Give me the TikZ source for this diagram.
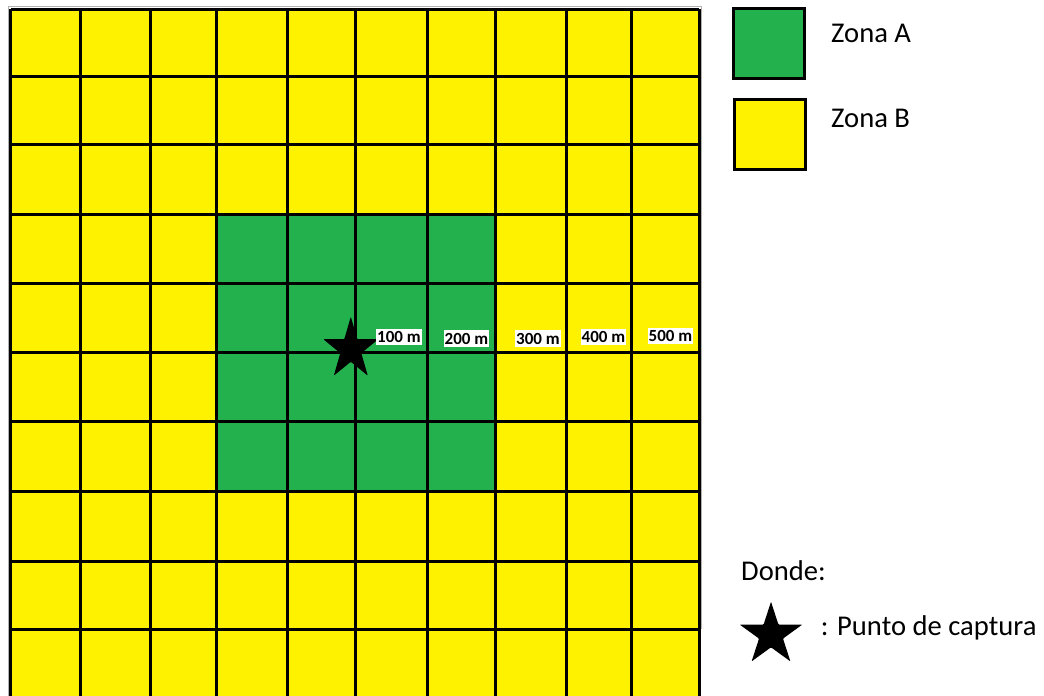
\documentclass[tikz,border=0pt]{standalone}
\usepackage{fontspec}
\setmainfont{Carlito}
\definecolor{zgreen}{HTML}{22B14C}
\definecolor{zyellow}{HTML}{FFF200}
\tikzset{
  gridline/.style={line width=3pt, black},
  lbl/.style={fill=white, font=\bfseries\fontsize{17}{17}\selectfont, inner xsep=1pt, inner ysep=2.5pt, anchor=base},
  txt/.style={font=\fontsize{28.6}{30}\selectfont, anchor=base west, inner sep=0pt},
  legbox/.style={draw=black, line width=3pt, minimum width=71pt, minimum height=70pt, inner sep=0pt},
}
\begin{document}
\begin{tikzpicture}[x=1pt,y=-1pt]
\useasboundingbox (0,0) rectangle (1044,696);
\clip (0,0) rectangle (1044,696);
\fill[white] (0,0) rectangle (1044,696);
% thin gray frame of the grid picture
\draw[gray!60, line width=1pt] (8,700) -- (8,6) -- (701,6) -- (701,629);
% fills
\fill[zyellow] (10.5,9) rectangle (699,700);
\fill[zgreen] (216.5,214) rectangle (495.5,491.5);
% grid lines
\foreach \x in {10.5,80,150.5,216.5,287,355,427,495.5,566,631,699}
  \draw[gridline] (\x,9) -- (\x,700);
\foreach \y in {9,76.5,144,214,283.5,352.5,421.5,491.5,561,629.5}
  \draw[gridline] (10.5,\y) -- (699,\y);
% capture point star
\begin{scope}[shift={(350.8,349.3)}, x=0.887pt, y=1pt]
  \fill[black, rounded corners=0.8pt] (90:32.6) -- (126:12.45) -- (162:32.6) -- (198:12.45) -- (234:32.6) -- (270:12.45) -- (306:32.6) -- (342:12.45) -- (18:32.6) -- (54:12.45) -- cycle;
\end{scope}
% distance labels
\node[lbl] (d100) at (399,342.7) {100 m};
\node[lbl] (d200) at (466.5,344) {200 m};
\node[lbl] (d300) at (538,344) {300 m};
\node[lbl] (d400) at (603.5,342.7) {400 m};
\node[lbl] (d500) at (670.5,341.7) {500 m};
% legend
\node[legbox, fill=zgreen] (legA) at (768.5,43) {};
\node[legbox, fill=zyellow] (legB) at (769.5,134.5) {};
\node[txt] (tA) at (831,42.5) {Zona A};
\node[txt] (tB) at (831,127) {Zona B};
\node[txt] (donde) at (741,580.7) {Donde:};
\begin{scope}[shift={(771,634.7)}, x=1pt, y=1pt]
  \fill[black, rounded corners=0.8pt] (90:33) -- (126:12.6) -- (162:33) -- (198:12.6) -- (234:33) -- (270:12.6) -- (306:33) -- (342:12.6) -- (18:33) -- (54:12.6) -- cycle;
\end{scope}
\node[txt] (punto) at (820.7,635) {: Punto de captura};
\end{tikzpicture}
\end{document}
